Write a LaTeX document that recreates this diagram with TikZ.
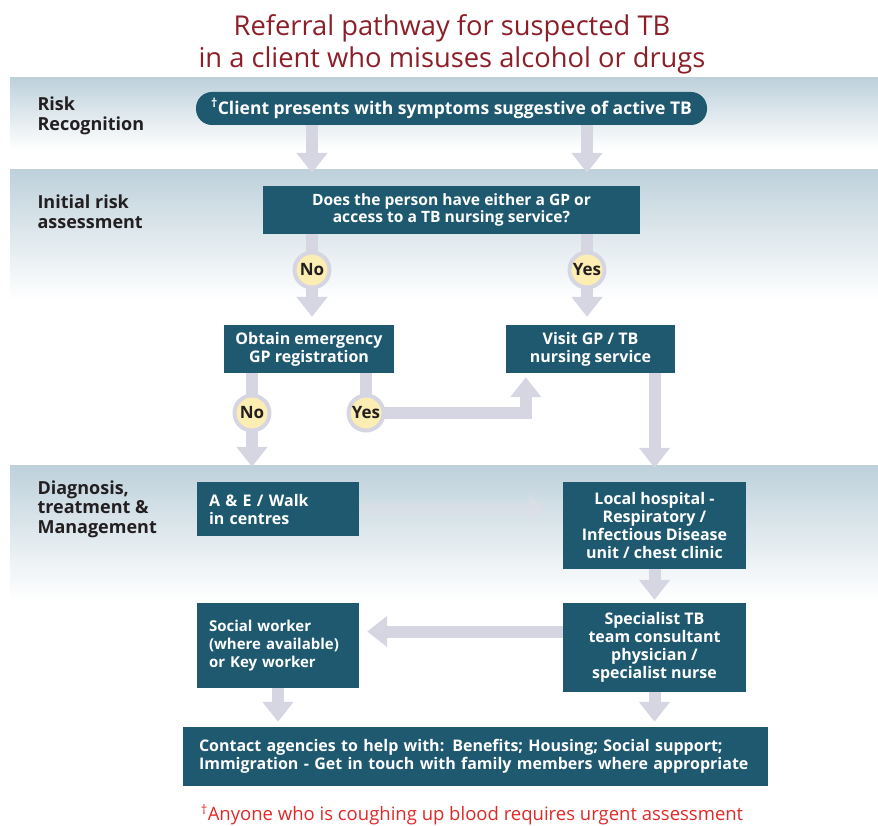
\documentclass[tikz,border=0pt]{standalone}
\usepackage{fontspec}
\setmainfont{Open Sans}
\usetikzlibrary{arrows.meta}
\definecolor{boxcol}{RGB}{30,89,112}
\definecolor{bandcol}{RGB}{190,209,219}
\definecolor{arrowcol}{RGB}{214,214,226}
\definecolor{fadecol}{RGB}{228,222,232}
\definecolor{answercol}{RGB}{252,238,178}
\definecolor{titlecol}{RGB}{140,30,40}
\definecolor{notecol}{RGB}{225,40,40}
\definecolor{labelcol}{RGB}{35,31,32}
\pgfdeclarelayer{bands}
\pgfdeclarelayer{links}
\pgfsetlayers{bands,links,main}
\begin{document}
\begin{tikzpicture}[x=1pt, y=-1pt,
  box/.style={fill=boxcol, text=white, inner sep=0pt, align=center, font=\bfseries\fontsize{16}{18}\selectfont},
  leftbox/.style={box, align=left, inner xsep=12pt},
  answer/.style={circle, fill=answercol, draw=arrowcol, line width=4pt, minimum size=35pt, inner sep=0pt, text=labelcol, font=\bfseries\fontsize{17}{18}\selectfont},
  stage/.style={anchor=west, align=left, text=labelcol, font=\bfseries\fontsize{18}{19.5}\selectfont},
  flow/.style={draw=arrowcol, line width=12pt, -{Triangle[width=30pt,length=20pt]}},
  band/.style={top color=bandcol, bottom color=white, draw=none}]
\useasboundingbox (0,0) rectangle (878,826);
\begin{pgfonlayer}{bands}
\fill[band] (10,78) rectangle (878,150);
\fill[band] (10,170) rectangle (878,300);
\fill[band] (10,465) rectangle (878,600);
\end{pgfonlayer}
\node[text=titlecol, align=center, font=\fontsize{27.3}{32}\selectfont] (title) at (452,44) {Referral pathway for suspected TB\\in a client who misuses alcohol or drugs};
\node[stage] (risk) at (34,116) {Risk\\Recognition};
\node[stage] (initial) at (34,212) {Initial risk\\assessment};
\node[stage] (diag) at (34,509) {Diagnosis,\\treatment \&\\Management};

\node[box, rounded corners=16pt, minimum width=511pt, minimum height=33pt, font=\bfseries\fontsize{17.5}{18}\selectfont] (client) at (451.5,108.5) {\textsuperscript{†}Client presents with symptoms suggestive of active TB};
\node[box, minimum width=377pt, minimum height=48pt, font=\bfseries\fontsize{15.6}{17.5}\selectfont] (q) at (451.5,210) {Does the person have either a GP or\\access to a TB nursing service?};
\node[box, minimum width=170pt, minimum height=48pt] (obtain) at (309,349) {Obtain emergency\\GP registration};
\node[box, minimum width=169pt, minimum height=48pt] (visit) at (590.5,349) {Visit GP / TB\\nursing service};
\node[leftbox, text width=138pt, minimum height=54pt] (ae) at (278,509) {A \& E / Walk\\in centres};
\node[box, minimum width=183pt, minimum height=87pt] (local) at (654.5,525.5) {Local hospital -\\Respiratory /\\Infectious Disease\\unit / chest clinic};
\node[leftbox, text width=138pt, minimum height=85pt, font=\bfseries\fontsize{15}{18}\selectfont] (social) at (278,645.5) {Social worker\\\mbox{(where available)}\\or Key worker};
\node[box, minimum width=183pt, minimum height=89pt] (spec) at (654.5,647.5) {Specialist TB\\team consultant\\physician /\\specialist nurse};
\node[leftbox, inner xsep=16pt, text width=553pt, minimum height=59pt] (contact) at (475.5,756.5) {Contact agencies to help with: Benefits; Housing; Social support;\\Immigration - Get in touch with family members where appropriate};
\node[text=notecol, font=\fontsize{18.5}{20}\selectfont] (note) at (472,815) {\textsuperscript{†}Anyone who is coughing up blood requires urgent assessment};

\node[answer] (no1) at (312,270) {No};
\node[answer] (yes1) at (587,270) {Yes};
\node[answer] (no2) at (252,413) {No};
\node[answer] (yes2) at (366,413) {Yes};

\begin{pgfonlayer}{links}
\draw[flow, shorten >=13pt] (client.south -| no1) -- (q.north -| no1);
\draw[flow, shorten >=13pt] (client.south -| yes1) -- (q.north -| yes1);
\draw[flow, shorten >=8pt] (q.south -| no1) -- (obtain.north -| no1);
\draw[flow, shorten >=8pt] (q.south -| yes1) -- (visit.north -| yes1);
\draw[flow, shorten >=15pt] (obtain.south -| no2) -- (ae.north -| no2);
\draw[flow, shorten >=4pt] (obtain.south -| yes2) -- (yes2.center) -| ([xshift=20pt]visit.south west);
\draw[flow, shorten >=14pt] (visit.south -| local.north) -- (local.north);
\draw[flow, draw=fadecol, opacity=.3, shorten >=15pt] (ae.east) -- (ae.east -| local.west);
\draw[flow, shorten >=3pt] (local.south) -- (spec.north);
\draw[flow, shorten >=8pt] ([yshift=16pt]spec.west) -- ([yshift=16pt]spec.west -| social.east);
\draw[flow, shorten >=5pt] (social.south) -- (contact.north -| social.south);
\draw[flow, shorten >=5pt] (spec.south) -- (contact.north -| spec.south);
\end{pgfonlayer}
\end{tikzpicture}
\end{document}
